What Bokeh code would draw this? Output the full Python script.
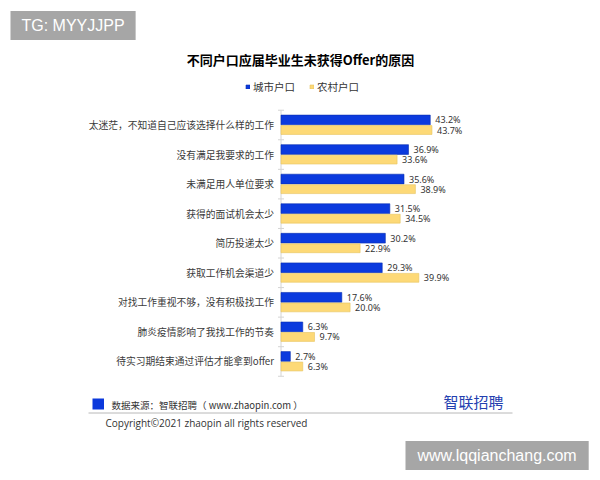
from bokeh.plotting import figure
from bokeh.models import (ColumnDataSource, Label, Legend, LegendItem, Arrow, Range1d)
from bokeh.core.properties import value
from bokeh.transform import dodge
from bokeh.embed import file_html
from bokeh.resources import INLINE

categories = ["太迷茫，不知道自己应该选择什么样的工作", "没有满足我要求的工作", "未满足用人单位要求",
              "获得的面试机会太少", "简历投递太少", "获取工作机会渠道少",
              "对找工作重视不够，没有积极找工作", "肺炎疫情影响了我找工作的节奏", "待实习期结束通过评估才能拿到offer"]
urban = [43.2, 36.9, 35.6, 31.5, 30.2, 29.3, 17.6, 6.3, 2.7]
rural = [43.7, 33.6, 38.9, 34.5, 22.9, 39.9, 20.0, 9.7, 6.3]
series_names = ["城市户口", "农村户口"]
title_text = "不同户口应届毕业生未获得Offer的原因"
source_text = "数据来源：智联招聘（ www.zhaopin.com ）"
copyright_text = "Copyright©2021 zhaopin all rights reserved"
logo_text = "智联招聘"

BLUE = "#0b3ade"
YELLOW = "#fdd977"
CJK = "Noto Sans CJK SC"

n = len(categories)
idx = list(range(n))
src = ColumnDataSource(dict(
    idx=idx, cat=categories, urban=urban, rural=rural,
    ulab=[f"{v:.1f}%" for v in urban], rlab=[f"{v:.1f}%" for v in rural],
))

# pixel geometry of the frame (whole figure is the frame)
W, H = 600, 480
X0_PX = 280.5          # pixel position of value 0
PX_PER_UNIT = 3.455    # pixels per percentage point
Y0_PX = 124.5          # pixel centre of the first category
PX_PER_CAT = 29.56

p = figure(width=W, height=H, output_backend="svg", toolbar_location=None,
           x_range=Range1d(-X0_PX / PX_PER_UNIT, (W - X0_PX) / PX_PER_UNIT),
           y_range=Range1d((H - Y0_PX) / PX_PER_CAT, -Y0_PX / PX_PER_CAT),
           min_border=0)
p.outline_line_color = None
p.grid.visible = False
p.axis.visible = False
p.background_fill_color = "white"

# category axis line and boundary ticks
p.segment(x0=[0], y0=[-0.5], x1=[0], y1=[n - 0.5], line_color="#d4d4d4", line_width=1)
p.scatter(x=[0] * (n + 1), y=[i - 0.5 for i in range(n + 1)], marker="dash", size=6,
          line_color="#d4d4d4", line_width=1)

r_u = p.hbar(y=dodge("idx", -0.17), right="urban", left=0, height=0.33,
             source=src, fill_color=BLUE, line_color="#0a2fb0", line_width=0.6)
r_r = p.hbar(y=dodge("idx", 0.17), right="rural", left=0, height=0.30,
             source=src, fill_color=YELLOW, line_color="#e6c462", line_width=0.6)

p.text(x=0, y="idx", text="cat", source=src, x_offset=-7, text_align="right",
       text_baseline="middle", text_font=value(CJK), text_font_size="9.75px", text_color="#3a3a3a")

p.text(x="urban", y=dodge("idx", -0.17), text="ulab", source=src,
       x_offset=5, text_baseline="middle", text_font_size="9px", text_color="#333333",
       text_font=value("Noto Sans"))
p.text(x="rural", y=dodge("idx", 0.17), text="rlab", source=src,
       x_offset=5, text_baseline="middle", text_font_size="9px", text_color="#333333",
       text_font=value("Noto Sans"))

legend = Legend(items=[LegendItem(label=series_names[0], renderers=[r_u]),
                       LegendItem(label=series_names[1], renderers=[r_r])],
                orientation="horizontal", location=(245, H - 94),
                glyph_width=5, glyph_height=5, label_standoff=3, spacing=14,
                label_height=12, label_width=10, padding=0, margin=0,
                border_line_color=None, background_fill_alpha=0,
                label_text_font=CJK, label_text_font_size="10.5px", label_text_color="#333333")
p.add_layout(legend, "center")

def sy(iy):
    return H - iy

p.add_layout(Label(x=300, y=sy(59), x_units="screen", y_units="screen", text=title_text,
                   text_align="center", text_baseline="middle", text_font=CJK,
                   text_font_size="13px", text_font_style="bold", text_color="#000000"))

p.add_layout(Label(x=10, y=sy(25), x_units="screen", y_units="screen", text="TG: MYYJJPP",
                   text_align="left", text_baseline="middle", text_font="Liberation Sans",
                   text_font_size="16px", text_color="white",
                   background_fill_color="#a6a6a6", padding=(11, 6)))

p.add_layout(Label(x=405, y=sy(455), x_units="screen", y_units="screen", text="www.lqqianchang.com",
                   text_align="left", text_baseline="middle", text_font="Liberation Sans",
                   text_font_size="16px", text_color="white",
                   background_fill_color="#a6a6a6", padding=(12, 6)))

p.add_layout(Label(x=92, y=sy(403.5), x_units="screen", y_units="screen", text="\u3000",
                   text_align="left", text_baseline="middle", text_font=CJK,
                   text_font_size="7.5px", background_fill_color="#0b39dc", padding=(2, 0)))

p.add_layout(Label(x=111, y=sy(404), x_units="screen", y_units="screen", text=source_text,
                   text_align="left", text_baseline="middle", text_font=CJK,
                   text_font_size="9.5px", text_color="#333333"))

p.add_layout(Label(x=105, y=sy(422), x_units="screen", y_units="screen", text=copyright_text,
                   text_align="left", text_baseline="middle", text_font="Open Sans",
                   text_font_size="10px", text_color="#333333"))

p.add_layout(Label(x=443, y=sy(401), x_units="screen", y_units="screen", text=logo_text,
                   text_align="left", text_baseline="middle", text_font=CJK,
                   text_font_size="15px", text_color="#2340b0"))

p.add_layout(Arrow(end=None, x_start=88, y_start=sy(412.5), x_end=512, y_end=sy(412.5),
                   start_units="screen", end_units="screen", line_color="#b8b8b8", line_width=1))

open("out.html", "w").write(file_html(p, INLINE))
